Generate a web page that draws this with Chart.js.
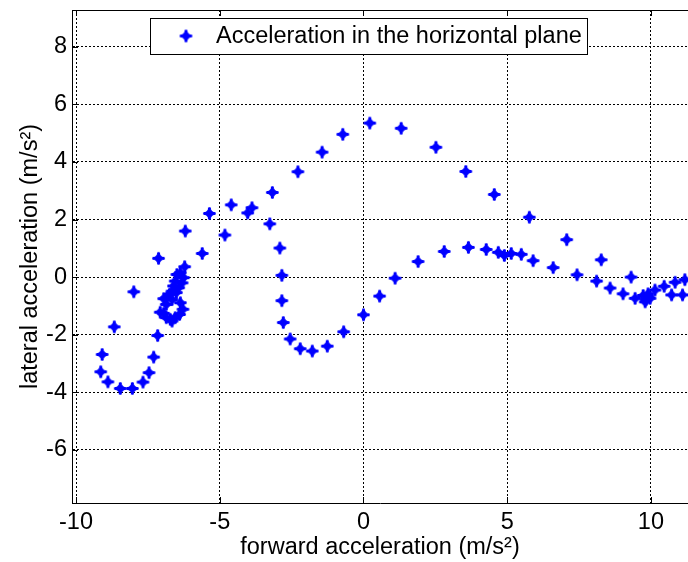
<!DOCTYPE html>
<html><head><meta charset="utf-8">
<script src="https://cdn.jsdelivr.net/npm/chart.js@4"></script>
<style>html,body{margin:0;padding:0;background:#fff}#wrap{width:688px;height:562px;position:relative}</style>
</head><body><div id="wrap"><canvas id="c" width="688" height="562"></canvas></div>
<script>
const forwardAcc = [
  -9.09,-9.14,-8.89,-8.46,-8.04,-7.67,-7.46,-7.30,-7.16,-8.67,-7.99,-7.13,
  -6.22,-6.37,-6.49,-6.26,-6.55,-6.31,-6.61,-6.43,-6.66,-6.51,-6.75,-6.84,-6.66,-6.86,-6.37,-6.28,-7.07,-6.95,-6.86,-6.72,-6.55,-6.40,-6.66,-6.95,
  -6.20,-5.61,-5.36,-4.82,-4.60,-4.03,-3.88,-3.26,-3.17,-2.91,-2.84,-2.84,-2.79,-2.55,-2.20,-1.78,-1.26,-0.69,0.00,0.56,
  1.10,1.90,2.81,3.65,4.27,4.69,4.90,5.14,5.49,5.90,6.60,7.43,8.11,8.58,9.03,9.45,
  9.73,9.83,9.90,9.97,9.80,9.90,10.14,10.46,10.84,11.18,10.72,11.10,
  -2.28,-1.44,-0.72,0.22,1.31,2.52,3.56,4.55,5.77,7.07,8.27,9.31
];
const lateralAcc = [
  -2.69,-3.29,-3.64,-3.87,-3.87,-3.65,-3.32,-2.78,-2.03,-1.73,-0.51,0.65,
  0.36,0.15,0.09,-0.02,-0.14,-0.20,-0.31,-0.37,-0.49,-0.54,-0.60,-0.72,-0.78,-0.95,-0.89,-1.12,-1.22,-1.26,-1.41,-1.47,-1.41,-1.30,-1.53,-0.75,
  1.60,0.82,2.21,1.46,2.51,2.23,2.41,1.85,2.94,1.01,0.06,-0.82,-1.58,-2.15,-2.49,-2.57,-2.40,-1.90,-1.31,-0.66,
  -0.04,0.54,0.89,1.03,0.96,0.86,0.75,0.82,0.79,0.57,0.33,0.08,-0.14,-0.38,-0.58,-0.74,
  -0.64,-0.78,-0.67,-0.74,-0.86,-0.58,-0.45,-0.32,-0.18,-0.09,-0.62,-0.62,
  3.66,4.34,4.96,5.35,5.17,4.51,3.67,2.87,2.08,1.30,0.60,0.00
];
const xTickValues = [-10,-5,0,5,10];
const yTickValues = [-6,-4,-2,0,2,4,6,8];
const seriesLabel = 'Acceleration in the horizontal plane';
const xTitle = 'forward acceleration (m/s²)';
const yTitle = 'lateral acceleration (m/s²)';

const FONT = 'Liberation Sans, Arial, sans-serif';
const FS = 23.5;

function makeMarker(){
  const s = 15, m = 7.5;
  const c = document.createElement('canvas');
  c.width = s; c.height = s;
  const g = c.getContext('2d');
  g.fillStyle = '#0000ff';
  g.beginPath();
  g.moveTo(m, m-6.5); g.lineTo(m+2.6, m-2.6); g.lineTo(m+6.5, m); g.lineTo(m+2.6, m+2.6);
  g.lineTo(m, m+6.5); g.lineTo(m-2.6, m+2.6); g.lineTo(m-6.5, m); g.lineTo(m-2.6, m-2.6);
  g.closePath(); g.fill();
  g.fillRect(m-1.5, m-6, 3, 12);
  g.fillRect(m-6, m-1.5, 12, 3);
  return c;
}
const marker = makeMarker();

const points = forwardAcc.map((x, i) => ({x: x, y: lateralAcc[i]}));

const framePlugin = {
  id: 'frame',
  afterDatasetsDraw(chart) {
    const ctx = chart.ctx, a = chart.chartArea;
    const xs = chart.scales.x, ys = chart.scales.y;
    ctx.save();
    ctx.strokeStyle = '#000';
    ctx.lineWidth = 1;
    ctx.setLineDash([]);
    ctx.beginPath();
    ctx.moveTo(a.left, Math.round(a.top)+0.5); ctx.lineTo(a.right, Math.round(a.top)+0.5);
    xTickValues.forEach(v => {
      const px = Math.round(xs.getPixelForValue(v)) + 0.5;
      ctx.moveTo(px, a.bottom); ctx.lineTo(px, a.bottom - 6);
      ctx.moveTo(px, a.top); ctx.lineTo(px, a.top + 6);
    });
    yTickValues.forEach(v => {
      const py = Math.round(ys.getPixelForValue(v)) + 0.5;
      ctx.moveTo(a.left, py); ctx.lineTo(a.left + 6, py);
    });
    ctx.stroke();
    const lx = 150.5, ly = 18.5, lw = 437, lh = 36;
    ctx.fillStyle = '#fff';
    ctx.fillRect(lx, ly, lw, lh);
    ctx.strokeRect(lx, ly, lw, lh);
    ctx.drawImage(marker, 186 - 7.5, 36 - 7.5);
    ctx.fillStyle = '#000';
    ctx.font = FS + 'px ' + FONT;
    ctx.textBaseline = 'middle';
    ctx.textAlign = 'left';
    ctx.fillText(chart.data.datasets[0].label, 216, 37);
    ctx.restore();
  }
};

new Chart(document.getElementById('c'), {
  type: 'scatter',
  data: { datasets: [{
    label: seriesLabel,
    data: points,
    pointStyle: marker,
    pointRadius: 7,
    pointHoverRadius: 7
  }]},
  options: {
    responsive: false,
    animation: false,
    devicePixelRatio: 1,
    layout: { autoPadding: false, padding: { top: 10, right: 0, bottom: 0, left: 0 } },
    plugins: { legend: { display: false }, tooltip: { enabled: false } },
    scales: {
      x: {
        type: 'linear', min: -10.14, max: 11.29,
        afterBuildTicks: s => { s.ticks = xTickValues.map(v => ({value: v})); },
        afterFit: s => { s.height = 59; s.paddingLeft = 0; s.paddingRight = 0; },
        ticks: { font: { family: FONT, size: FS }, color: '#000', padding: 5, maxRotation: 0 },
        grid: { color: '#000', lineWidth: 1, drawTicks: false },
        border: { display: true, color: '#000', width: 1, dash: [2, 2] },
        title: { display: true, text: xTitle, color: '#000', font: { family: FONT, size: FS }, padding: { top: 0, bottom: 0 } }
      },
      y: {
        type: 'linear', min: -7.85, max: 9.28,
        afterBuildTicks: s => { s.ticks = yTickValues.map(v => ({value: v})); },
        afterFit: s => { s.width = 72; s.paddingTop = 0; s.paddingBottom = 0; },
        ticks: { font: { family: FONT, size: FS }, color: '#000', padding: 5 },
        grid: { color: '#000', lineWidth: 1, drawTicks: false },
        border: { display: true, color: '#000', width: 1, dash: [2, 2] },
        title: { display: true, text: yTitle, color: '#000', font: { family: FONT, size: FS }, padding: { top: 16, bottom: 0 } }
      }
    }
  },
  plugins: [framePlugin]
});
</script>
</body></html>
